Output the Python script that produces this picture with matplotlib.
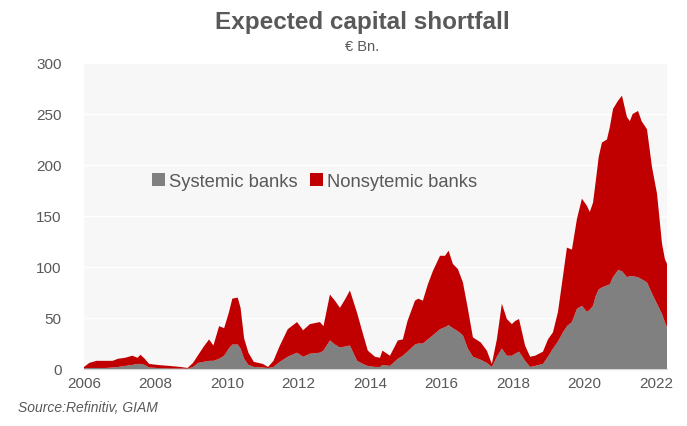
import matplotlib
matplotlib.use("Agg")
import matplotlib.pyplot as plt
import numpy as np

plt.rcParams['font.family'] = ['Liberation Sans', 'DejaVu Sans']

# Expected capital shortfall, EUR bn, by date (decimal years)
dates = [
    2006.00, 2006.15, 2006.35, 2006.60, 2006.80, 2006.95, 2007.15, 2007.35, 2007.50, 2007.58,
    2007.70, 2007.82, 2008.05, 2008.40, 2008.70, 2008.90, 2009.05, 2009.20, 2009.35, 2009.50,
    2009.62, 2009.78, 2009.92, 2010.05, 2010.15, 2010.30, 2010.38, 2010.48, 2010.60, 2010.75,
    2011.00, 2011.15, 2011.30, 2011.48, 2011.70, 2011.96, 2012.13, 2012.32, 2012.60, 2012.70,
    2012.88, 2013.02, 2013.16, 2013.30, 2013.44, 2013.64, 2013.80, 2013.94, 2014.14, 2014.28,
    2014.35, 2014.56, 2014.78, 2014.92, 2015.05, 2015.26, 2015.35, 2015.48, 2015.62, 2015.76,
    2015.96, 2016.10, 2016.20, 2016.32, 2016.46, 2016.60, 2016.74, 2016.88, 2017.10, 2017.27,
    2017.41, 2017.55, 2017.69, 2017.83, 2017.97, 2018.06, 2018.17, 2018.34, 2018.48, 2018.62,
    2018.84, 2018.98, 2019.12, 2019.26, 2019.40, 2019.51, 2019.65, 2019.79, 2019.93, 2020.07,
    2020.15, 2020.24, 2020.32, 2020.40, 2020.49, 2020.63, 2020.71, 2020.80, 2020.94, 2021.05,
    2021.19, 2021.27, 2021.35, 2021.50, 2021.60, 2021.75, 2021.89, 2022.03, 2022.17, 2022.25,
    2022.31,
]
total = [
    2, 6, 8, 8, 8, 10, 11, 13, 11, 14,
    10, 5, 4, 3, 2, 1, 6, 14, 22, 29,
    23, 42, 40, 55, 69, 70, 60, 30, 16, 7,
    5, 2, 8, 23, 39, 46, 38, 44, 46, 42,
    73, 67, 60, 68, 77, 55, 35, 18, 12, 11,
    18, 13, 28, 29, 47, 67, 69, 67, 83, 96,
    111, 111, 116, 103, 98, 85, 59, 31, 26, 18,
    5, 29, 64, 49, 44, 47, 49, 23, 12, 13,
    17, 29, 36, 56, 91, 119, 117, 147, 167, 160,
    154, 163, 185, 208, 222, 225, 237, 255, 263, 268,
    247, 243, 250, 253, 243, 235, 198, 172, 123, 108,
    103,
]
systemic = [
    0.5, 1, 1, 1, 1.5, 2, 3, 4, 5, 5,
    4, 1.5, 1, 0.5, 0.5, 0.3, 2, 6, 7, 8,
    8, 10, 13, 20, 24, 24, 20, 10, 4, 2,
    1.5, 1, 2, 7, 12, 16, 12, 15, 16, 18,
    28, 24, 21, 22, 23, 8, 5, 3, 2, 2,
    4, 3, 10, 13, 17, 24, 25, 25, 29, 33,
    39, 41, 43, 40, 37, 33, 20, 12, 9, 6,
    2, 12, 20, 13, 13, 15, 17, 8, 2, 3,
    5, 12, 20, 27, 36, 42, 46, 59, 62, 56,
    58, 62, 72, 78, 80, 82, 83, 90, 97, 96,
    90, 91, 91, 90, 88, 85, 74, 64, 54, 46,
    41,
]
nonsystemic = [t - s for t, s in zip(total, systemic)]

series_labels = ["Systemic banks", "Nonsytemic banks"]
series_colors = ["#808080", "#C00000"]
year_ticks = list(range(2006, 2023, 2))
value_ticks = list(range(0, 301, 50))

text_color = "#595959"

fig = plt.figure(figsize=(6.87, 4.27), dpi=100)
ax = fig.add_axes([84 / 687, 57 / 427, 583 / 687, 306 / 427])
ax.set_facecolor("#F7F7F7")

ax.stackplot(dates, systemic, nonsystemic, colors=series_colors,
             labels=series_labels, linewidth=0, zorder=3)

ax.set_xlim(2006, 2022.31)
ax.set_ylim(0, 300)
ax.set_xticks(year_ticks)
ax.set_yticks(value_ticks)
ax.grid(axis="y", color="white", linewidth=1.0, zorder=1)
ax.set_axisbelow(True)
ax.tick_params(axis="both", length=0, labelsize=11, labelcolor=text_color)
ax.tick_params(axis="y", pad=16)
ax.tick_params(axis="x", pad=5)
for side in ["top", "right", "left"]:
    ax.spines[side].set_visible(False)
ax.spines["bottom"].set_color("#D9D9D9")
ax.spines["bottom"].set_linewidth(1.0)

leg = ax.legend(loc="center", bbox_to_anchor=(2012.45, 184), bbox_transform=ax.transData,
                ncol=2, frameon=False, fontsize=13.2, handlelength=0.7, handleheight=0.7,
                handletextpad=0.2, columnspacing=0.7, borderpad=0)
for t in leg.get_texts():
    t.set_color(text_color)

fig.text(0.527, 0.948, "Expected capital shortfall", ha="center", va="center",
         fontsize=17.5, fontweight="bold", color=text_color)
fig.text(0.527, 0.890, "€ Bn.", ha="center", va="center", fontsize=10.5, color=text_color)
fig.text(18 / 687, 1 - 408 / 427, "Source:Refinitiv, GIAM", ha="left", va="center",
         fontsize=10, style="italic", color=text_color)

fig.savefig("out.png", dpi=100, facecolor="white")
